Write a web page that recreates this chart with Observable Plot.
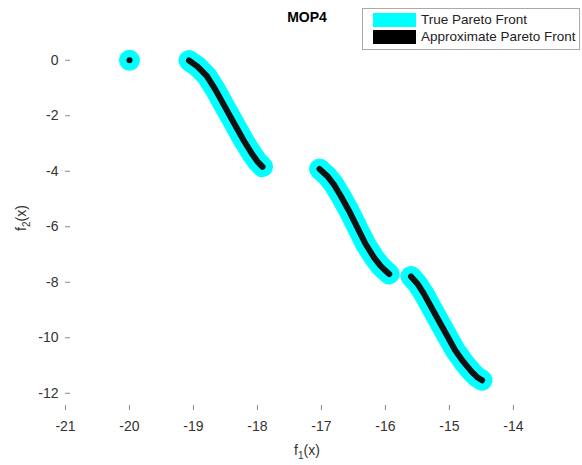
<!DOCTYPE html>
<html><head><meta charset="utf-8">
<script src="https://cdn.jsdelivr.net/npm/d3@7"></script>
<script src="https://cdn.jsdelivr.net/npm/@observablehq/plot@0.6"></script>
<style>
body{margin:0;background:#fff;font-family:"Liberation Sans",Arial,sans-serif;}
#wrap{position:relative;width:582px;height:465px;overflow:hidden;}
#title{position:absolute;left:207px;width:200px;top:9px;text-align:center;font-weight:bold;font-size:14px;color:#000;line-height:16px;}
#xlab{position:absolute;left:257px;width:100px;top:442px;text-align:center;font-size:14px;color:#333;line-height:16px;}
#ylab{position:absolute;left:-29px;width:100px;top:210px;text-align:center;font-size:14px;color:#333;line-height:16px;transform:rotate(-90deg);}
sub{font-size:10px;vertical-align:-4px;line-height:0;}
#legend{position:absolute;left:362px;top:8px;width:216px;height:40px;border:1px solid #aaa;background:#fff;}
.sw{position:absolute;left:10px;width:43px;}
.lt{position:absolute;left:58px;font-size:13.5px;color:#222;line-height:16px;white-space:nowrap;}
</style></head><body><div id="wrap"></div>
<script>
// Isolated point of the front
const isoF1 = [-20.00];
const isoF2 = [0.00];
// Front segment A
const segAF1 = [-19.07, -18.94, -18.79, -18.66, -18.53, -18.37, -18.21, -18.08, -18.00, -17.92];
const segAF2 = [-0.01, -0.22, -0.57, -1.05, -1.59, -2.25, -2.91, -3.39, -3.65, -3.84];
// Front segment B
const segBF1 = [-17.03, -16.91, -16.81, -16.70, -16.57, -16.44, -16.31, -16.18, -16.08, -16.00, -15.94];
const segBF2 = [-3.92, -4.17, -4.46, -4.88, -5.42, -6.02, -6.62, -7.10, -7.40, -7.58, -7.70];
// Front segment C
const segCF1 = [-15.60, -15.50, -15.40, -15.30, -15.17, -15.04, -14.91, -14.78, -14.65, -14.57, -14.49];
const segCF2 = [-7.79, -8.05, -8.41, -8.83, -9.37, -9.91, -10.45, -10.87, -11.23, -11.41, -11.53];
const xTicks = [-21, -20, -19, -18, -17, -16, -15, -14];
const yTicks = [-12, -10, -8, -6, -4, -2, 0];
const xDomain = [-21, -13.42];
const yDomain = [-12.62, 1];

const rows = [];
[[segAF1, segAF2, "A"], [segBF1, segBF2, "B"], [segCF1, segCF2, "C"]].forEach(([xs, ys, s]) => {
  xs.forEach((v, i) => rows.push({f1: v, f2: ys[i], seg: s}));
});
const iso = isoF1.map((v, i) => ({f1: v, f2: isoF2[i]}));
const fmt = d => String(d);

const chart = Plot.plot({
  width: 582, height: 465,
  marginLeft: 65, marginRight: 32, marginTop: 32, marginBottom: 55,
  style: {fontFamily: '"Liberation Sans", Arial, sans-serif', background: "#fff"},
  x: {domain: xDomain},
  y: {domain: yDomain},
  marks: [
    Plot.line(rows, {x: "f1", y: "f2", z: "seg", stroke: "#00ffff", strokeWidth: 21, strokeLinecap: "round", strokeLinejoin: "round"}),
    Plot.dot(iso, {x: "f1", y: "f2", r: 10.5, fill: "#00ffff", stroke: null}),
    Plot.line(rows, {x: "f1", y: "f2", z: "seg", stroke: "#111", strokeWidth: 6, strokeLinecap: "round", strokeLinejoin: "round"}),
    Plot.dot(iso, {x: "f1", y: "f2", r: 3, fill: "#111", stroke: null}),
    Plot.axisX({ticks: xTicks, tickFormat: fmt, tickSize: 0, tickPadding: 11, fontSize: 14, color: "#333", label: null}),
    Plot.axisX({ticks: xTicks, tickSize: 5, dy: -5, text: null, color: "#888", label: null}),
    Plot.axisX({ticks: [], tickSize: 0, text: null, line: true, color: "#888", label: null}),
    Plot.axisY({ticks: yTicks, tickFormat: fmt, tickSize: 0, tickPadding: 7, fontSize: 14, color: "#333", label: null}),
    Plot.axisY({ticks: yTicks, tickSize: 5, dx: 5, text: null, color: "#888", label: null}),
    Plot.axisY({ticks: [], tickSize: 0, text: null, line: true, color: "#888", label: null})
  ]
});
const wrap = document.getElementById("wrap");
wrap.appendChild(chart);
wrap.insertAdjacentHTML("beforeend", `
<div id="title">MOP4</div>
<div id="xlab">f<sub>1</sub>(x)</div>
<div id="ylab">f<sub>2</sub>(x)</div>
<div id="legend">
  <div class="sw" style="top:4px;height:14px;background:#00ffff"></div>
  <div class="sw" style="top:21px;height:14px;background:#000"></div>
  <div class="lt" style="top:3px">True Pareto Front</div>
  <div class="lt" style="top:20px">Approximate Pareto Front</div>
</div>`);
</script>
</body></html>
